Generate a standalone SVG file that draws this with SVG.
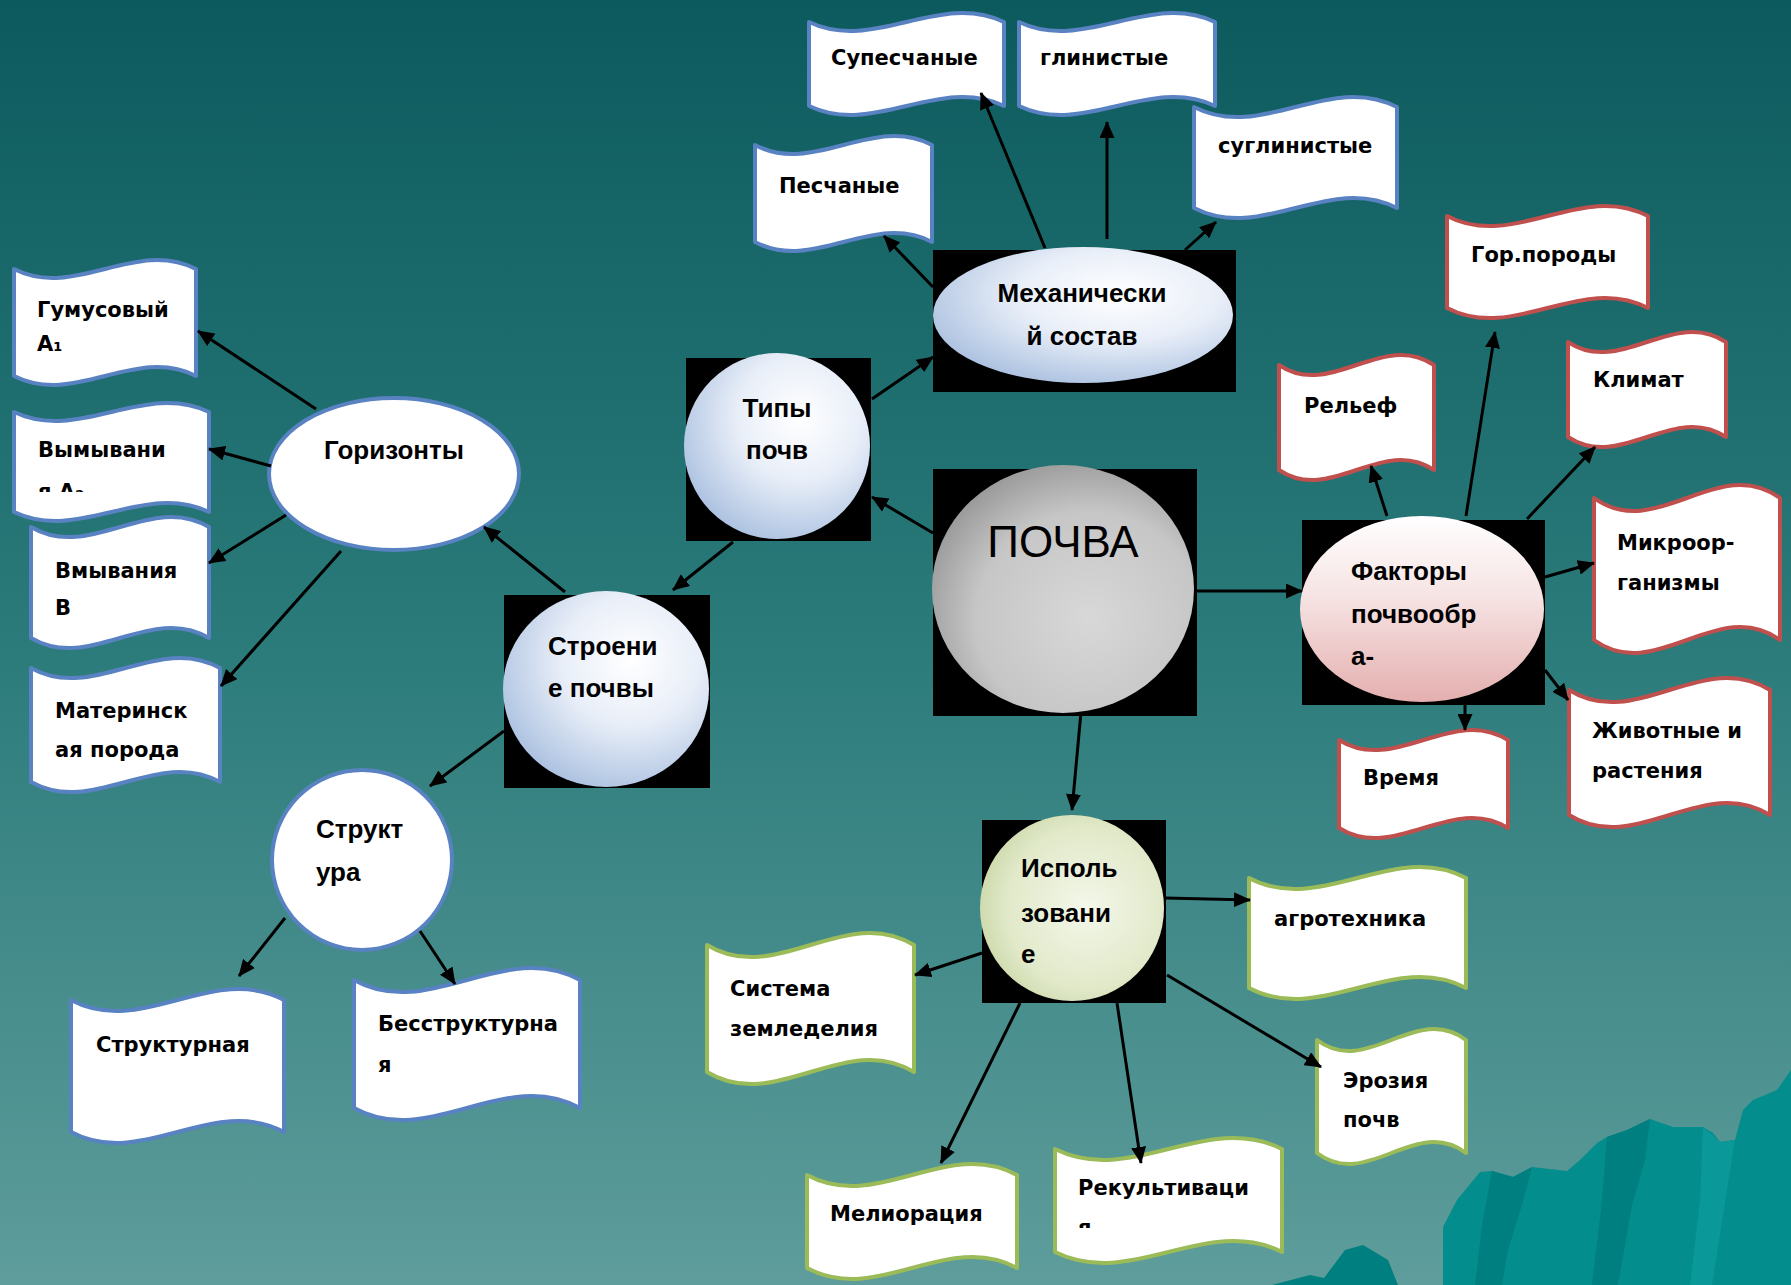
<svg xmlns="http://www.w3.org/2000/svg" width="1791" height="1285" viewBox="0 0 1791 1285">
<defs>
<style>
.wv{fill:#ffffff;stroke-width:4;stroke-linejoin:round}
.wb{stroke:#5882c1}
.wr{stroke:#c0504d}
.wg{stroke:#9bbb59}
.wl{font-family:"DejaVu Sans","Liberation Sans",sans-serif;font-weight:bold;font-size:21px;fill:#000}
.cl{font-family:"Liberation Sans",Arial,sans-serif;font-weight:bold;font-size:26px;fill:#000}
.big{font-family:"Liberation Sans",Arial,sans-serif;font-size:44px;fill:#000}
.blk{fill:#000}
.cn{stroke:#000;stroke-width:3;fill:none;marker-end:url(#ah)}
.mt{fill:#038d8d}
.mtd{fill:#007f80}
.mtl{fill:#0a9898}
</style>
<linearGradient id="bg" x1="0" y1="0" x2="0" y2="1">
<stop offset="0" stop-color="#0c5a5d"/>
<stop offset="0.5" stop-color="#2b7b7b"/>
<stop offset="1" stop-color="#5e9d9b"/>
</linearGradient>
<radialGradient id="gBlue" cx="0.62" cy="0.35" r="0.75">
<stop offset="0" stop-color="#ffffff"/>
<stop offset="0.45" stop-color="#e8eef8"/>
<stop offset="1" stop-color="#a3bbdd"/>
</radialGradient>
<radialGradient id="gGray" cx="0.6" cy="0.62" r="0.72">
<stop offset="0" stop-color="#d8d8d8"/>
<stop offset="0.6" stop-color="#c6c6c6"/>
<stop offset="1" stop-color="#8e8e8e"/>
</radialGradient>
<linearGradient id="gPink" x1="0" y1="0" x2="0" y2="1">
<stop offset="0" stop-color="#ffffff"/>
<stop offset="0.45" stop-color="#f6e2e2"/>
<stop offset="1" stop-color="#e4afaf"/>
</linearGradient>
<radialGradient id="gGreen" cx="0.58" cy="0.5" r="0.72">
<stop offset="0" stop-color="#f4f7ea"/>
<stop offset="0.6" stop-color="#e1e9c9"/>
<stop offset="1" stop-color="#bfcd96"/>
</radialGradient>
<marker id="ah" markerWidth="17" markerHeight="15" refX="16" refY="7.5" orient="auto" markerUnits="userSpaceOnUse">
<path d="M0,0 L17,7.5 L0,15 Z" fill="#000"/>
</marker>
<clipPath id="clipV"><rect x="0" y="380" width="230" height="112"/></clipPath>
<clipPath id="clipR"><rect x="1050" y="1140" width="240" height="88"/></clipPath>
</defs>

<rect x="0" y="0" width="1791" height="1285" fill="url(#bg)"/>

<g id="mountains">
<polygon class="mt" points="1443,1285 1443,1227 1457,1200 1480,1172 1492,1171 1513,1177 1532,1167 1567,1171 1580,1160 1597,1143 1607,1137 1627,1130 1650,1119 1673,1127 1703,1127 1713,1133 1720,1142 1735,1140 1743,1110 1753,1100 1777,1090 1791,1070 1791,1285"/>
<polygon class="mtd" points="1492,1171 1513,1177 1532,1167 1522,1205 1508,1250 1502,1285 1475,1285 1482,1225"/>
<polygon class="mtd" points="1607,1137 1627,1130 1650,1119 1645,1160 1632,1205 1618,1285 1592,1285 1602,1200"/>
<polygon class="mtl" points="1703,1127 1720,1142 1735,1140 1727,1190 1712,1285 1690,1285 1700,1200"/>
<polygon class="mtd" points="1272,1285 1310,1275 1324,1278 1345,1250 1363,1245 1388,1260 1398,1285"/>
</g>

<g id="node-gumus">
<path class="wv wb" d="M14,269 C75,300 135,238 196,269 L196,376 C135,345 75,407 14,376 Z"/>
<text class="wl" x="37" y="317">Гумусовый</text>
<text class="wl" x="37" y="351">А₁</text>
</g>
<g id="node-vymyv">
<path class="wv wb" d="M14,412 C79,443 144,381 209,412 L209,512 C144,481 79,543 14,512 Z"/>
<text class="wl" x="38" y="457">Вымывани</text>
<text class="wl" x="38" y="499" clip-path="url(#clipV)">я А₂</text>
</g>
<g id="node-vmyv">
<path class="wv wb" d="M31,527 C90,562 150,492 209,527 L209,638 C150,603 90,673 31,638 Z"/>
<text class="wl" x="55" y="578">Вмывания</text>
<text class="wl" x="55" y="615">В</text>
</g>
<g id="node-mater">
<path class="wv wb" d="M31,668 C94,703 157,633 220,668 L220,782 C157,747 94,817 31,782 Z"/>
<text class="wl" x="55" y="718">Материнск</text>
<text class="wl" x="55" y="757">ая порода</text>
</g>
<g id="node-supes">
<path class="wv wb" d="M809,22 C874,53 939,-9 1004,22 L1004,106 C939,75 874,137 809,106 Z"/>
<text class="wl" x="831" y="65">Супесчаные</text>
</g>
<g id="node-glin">
<path class="wv wb" d="M1019,22 C1084,53 1150,-9 1215,22 L1215,106 C1150,75 1084,137 1019,106 Z"/>
<text class="wl" x="1040" y="65">глинистые</text>
</g>
<g id="node-pesch">
<path class="wv wb" d="M755,145 C814,176 873,114 932,145 L932,242 C873,211 814,273 755,242 Z"/>
<text class="wl" x="779" y="193">Песчаные</text>
</g>
<g id="node-sugl">
<path class="wv wb" d="M1194,107 C1262,142 1329,72 1397,107 L1397,208 C1329,173 1262,243 1194,208 Z"/>
<text class="wl" x="1218" y="153">суглинистые</text>
</g>
<g id="node-struktur">
<path class="wv wb" d="M71,1000 C142,1038 213,962 284,1000 L284,1132 C213,1094 142,1170 71,1132 Z"/>
<text class="wl" x="96" y="1052">Структурная</text>
</g>
<g id="node-bestr">
<path class="wv wb" d="M354,980 C429,1022 505,938 580,980 L580,1108 C505,1066 429,1150 354,1108 Z"/>
<text class="wl" x="378" y="1031">Бесструктурна</text>
<text class="wl" x="378" y="1072">я</text>
</g>
<g id="node-gorpor">
<path class="wv wr" d="M1447,216 C1514,251 1581,181 1648,216 L1648,308 C1581,273 1514,343 1447,308 Z"/>
<text class="wl" x="1471" y="262">Гор.породы</text>
</g>
<g id="node-relief">
<path class="wv wr" d="M1279,365 C1331,400 1382,330 1434,365 L1434,470 C1382,435 1331,505 1279,470 Z"/>
<text class="wl" x="1304" y="413">Рельеф</text>
</g>
<g id="node-klimat">
<path class="wv wr" d="M1568,342 C1621,377 1673,307 1726,342 L1726,437 C1673,402 1621,472 1568,437 Z"/>
<text class="wl" x="1593" y="387">Климат</text>
</g>
<g id="node-mikro">
<path class="wv wr" d="M1594,498 C1656,543 1718,453 1780,498 L1780,640 C1718,595 1656,685 1594,640 Z"/>
<text class="wl" x="1617" y="550">Микроор-</text>
<text class="wl" x="1617" y="590">ганизмы</text>
</g>
<g id="node-vremya">
<path class="wv wr" d="M1339,740 C1395,775 1452,705 1508,740 L1508,828 C1452,793 1395,863 1339,828 Z"/>
<text class="wl" x="1363" y="785">Время</text>
</g>
<g id="node-zhiv">
<path class="wv wr" d="M1569,690 C1636,732 1703,648 1770,690 L1770,815 C1703,773 1636,857 1569,815 Z"/>
<text class="wl" x="1592" y="738">Животные и</text>
<text class="wl" x="1592" y="778">растения</text>
</g>
<g id="node-agro">
<path class="wv wg" d="M1249,878 C1321,916 1394,840 1466,878 L1466,988 C1394,950 1321,1026 1249,988 Z"/>
<text class="wl" x="1274" y="926">агротехника</text>
</g>
<g id="node-sistema">
<path class="wv wg" d="M707,945 C776,987 845,903 914,945 L914,1072 C845,1030 776,1114 707,1072 Z"/>
<text class="wl" x="730" y="996">Система</text>
<text class="wl" x="730" y="1036">земледелия</text>
</g>
<g id="node-eroz">
<path class="wv wg" d="M1317,1040 C1367,1078 1416,1002 1466,1040 L1466,1153 C1416,1115 1367,1191 1317,1153 Z"/>
<text class="wl" x="1343" y="1088">Эрозия</text>
<text class="wl" x="1343" y="1127">почв</text>
</g>
<g id="node-melior">
<path class="wv wg" d="M807,1175 C877,1213 947,1137 1017,1175 L1017,1268 C947,1230 877,1306 807,1268 Z"/>
<text class="wl" x="830" y="1221">Мелиорация</text>
</g>
<g id="node-rekult">
<path class="wv wg" d="M1055,1149 C1131,1187 1206,1111 1282,1149 L1282,1252 C1206,1214 1131,1290 1055,1252 Z"/>
<text class="wl" x="1078" y="1195">Рекультиваци</text>
<text class="wl" x="1078" y="1235" clip-path="url(#clipR)">я</text>
</g>

<g id="node-gorizonty">
<ellipse cx="394" cy="474" rx="125" ry="76" fill="#fff" stroke="#5882c1" stroke-width="4"/>
<text class="cl" x="394" y="459" text-anchor="middle">Горизонты</text>
</g>
<g id="node-struktura">
<ellipse cx="362" cy="860" rx="90" ry="90" fill="#fff" stroke="#5882c1" stroke-width="4"/>
<text class="cl" x="316" y="838">Структ</text>
<text class="cl" x="316" y="881">ура</text>
</g>
<g id="node-tipy">
<rect class="blk" x="686" y="358" width="185" height="183"/>
<ellipse cx="777" cy="446" rx="93" ry="93" fill="url(#gBlue)"/>
<text class="cl" x="777" y="417" text-anchor="middle">Типы</text>
<text class="cl" x="777" y="459" text-anchor="middle">почв</text>
</g>
<g id="node-stroenie">
<rect class="blk" x="504" y="595" width="206" height="193"/>
<ellipse cx="606" cy="689" rx="103" ry="98" fill="url(#gBlue)"/>
<text class="cl" x="548" y="655">Строени</text>
<text class="cl" x="548" y="697">е почвы</text>
</g>
<g id="node-mech">
<rect class="blk" x="933" y="250" width="303" height="142"/>
<ellipse cx="1083" cy="315" rx="150" ry="68" fill="url(#gBlue)"/>
<text class="cl" x="1082" y="302" text-anchor="middle" font-size="27">Механически</text>
<text class="cl" x="1082" y="345" text-anchor="middle" font-size="27">й состав</text>
</g>
<g id="node-pochva">
<rect class="blk" x="933" y="469" width="264" height="247"/>
<ellipse cx="1063" cy="589" rx="131" ry="124" fill="url(#gGray)"/>
<text class="big" x="1063" y="557" text-anchor="middle">ПОЧВА</text>
</g>
<g id="node-faktory">
<rect class="blk" x="1302" y="520" width="243" height="185"/>
<ellipse cx="1422" cy="609" rx="122" ry="93" fill="url(#gPink)"/>
<text class="cl" x="1351" y="580">Факторы</text>
<text class="cl" x="1351" y="623">почвообр</text>
<text class="cl" x="1351" y="665">а-</text>
</g>
<g id="node-ispolz">
<rect class="blk" x="982" y="820" width="184" height="183"/>
<ellipse cx="1072" cy="908" rx="92" ry="93" fill="url(#gGreen)"/>
<text class="cl" x="1021" y="877">Исполь</text>
<text class="cl" x="1021" y="922">зовани</text>
<text class="cl" x="1021" y="963">е</text>
</g>

<g id="connectors">
<path class="cn" d="M933,533 L872,497"/>
<path class="cn" d="M872,399 L933,357"/>
<path class="cn" d="M733,542 L673,590"/>
<path class="cn" d="M565,592 L484,527"/>
<path class="cn" d="M504,731 L430,786"/>
<path class="cn" d="M316,409 L198,331"/>
<path class="cn" d="M271,466 L209,449"/>
<path class="cn" d="M286,515 L209,563"/>
<path class="cn" d="M341,551 L221,686"/>
<path class="cn" d="M285,918 L239,976"/>
<path class="cn" d="M420,931 L455,984"/>
<path class="cn" d="M933,287 L884,236"/>
<path class="cn" d="M1045,248 L981,93"/>
<path class="cn" d="M1107,239 L1107,122"/>
<path class="cn" d="M1185,250 L1216,222"/>
<path class="cn" d="M1195,591 L1302,591"/>
<path class="cn" d="M1081,712 L1072,810"/>
<path class="cn" d="M1387,516 L1371,466"/>
<path class="cn" d="M1466,516 L1495,332"/>
<path class="cn" d="M1527,519 L1595,447"/>
<path class="cn" d="M1545,577 L1594,563"/>
<path class="cn" d="M1545,670 L1568,700"/>
<path class="cn" d="M1465,705 L1465,730"/>
<path class="cn" d="M1165,898 L1250,900"/>
<path class="cn" d="M982,953 L915,975"/>
<path class="cn" d="M1167,975 L1321,1067"/>
<path class="cn" d="M1020,1003 L941,1163"/>
<path class="cn" d="M1117,1003 L1141,1163"/>
</g>
</svg>
